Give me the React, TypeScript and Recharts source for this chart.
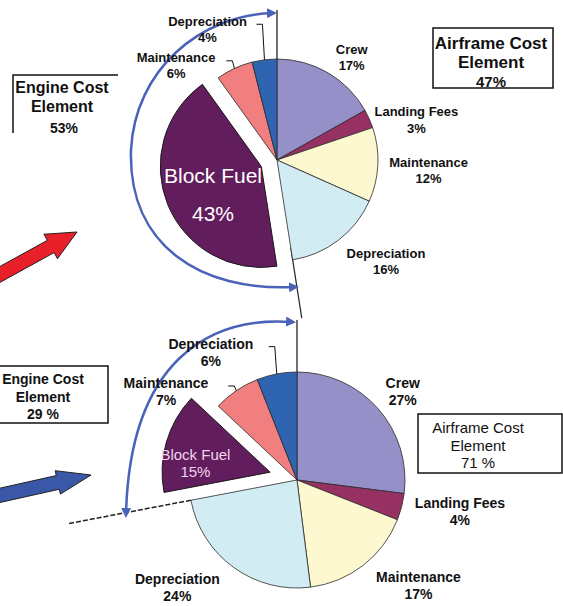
import { Cell, Pie, PieChart } from "recharts";

const categories = [
  "Crew",
  "Landing Fees",
  "Maintenance",
  "Depreciation",
  "Block Fuel",
  "Maintenance",
  "Depreciation",
];
const upperShares = [17, 3, 12, 16, 43, 6, 4];
const lowerShares = [27, 4, 17, 24, 15, 7, 6];

// group totals: [engine, airframe]
const upperGroups = ["53%", "47%"];
const lowerGroups = ["29 %", "71 %"];

const COLORS = ["#9690c8", "#983163", "#fdf8cf", "#d2ecf4", "#621d5c", "#f27f7f", "#2e64b0"];

const FUEL = 4; // the exploded slice
const AIRFRAME_SLICES = 4; // first four slices are airframe costs

const UPPER = { cx: 277, cy: 160, r: 101, explode: 17 };
const LOWER = { cx: 297, cy: 480, r: 108, explode: 28 };

// label spots as [clockwise angle from 12 o'clock, distance from centre]
const upperSpots = [[36, 127], [74, 145], [94, 152], [133, 149], [242, 72.5], [313, 138], [332, 148]];
const lowerSpots = [[50, 138], [101, 166], [131, 161], [228, 161], [279.5, 103], [304, 158], [326, 154]];

const FONT = "'Liberation Sans', Arial, sans-serif";
const RADIAN = Math.PI / 180;
const ARC_BLUE = "#4a63b8";

const polar = (cx: number, cy: number, r: number, deg: number) => ({
  x: cx + r * Math.sin(deg * RADIAN),
  y: cy - r * Math.cos(deg * RADIAN),
});

// start/end angles (clockwise from top) of each slice
const sliceAngles = (shares: number[]) => {
  const total = shares.reduce((a, b) => a + b, 0);
  let acc = 0;
  return shares.map((v) => {
    const start = (acc / total) * 360;
    acc += v;
    return { start, end: (acc / total) * 360 };
  });
};

const makeLabel =
  (shares: number[], spots: number[][], size: number, fuelSize: number, fuelColor: string, fuelGap: number) =>
  (props: any) => {
    const { cx, cy, outerRadius, midAngle, index } = props;
    const [ang, dist] = spots[index];
    const p = polar(cx, cy, dist, ang);
    if (index === FUEL) {
      return (
        <g fontFamily={FONT} fill={fuelColor} fontSize={fuelSize} textAnchor="middle">
          <text x={p.x} y={p.y - fuelGap} dominantBaseline="central">{categories[index]}</text>
          <text x={p.x} y={p.y + fuelGap} dominantBaseline="central">{shares[index]}%</text>
        </g>
      );
    }
    const half = size * 0.62;
    const nameY = p.y - half;
    let leader = null;
    if (index > FUEL) {
      const s = polar(cx, cy, outerRadius, 90 - midAngle);
      const ly = nameY + 3;
      leader = (
        <polyline
          points={`${s.x},${s.y} ${s.x - 2},${ly} ${s.x - 8},${ly}`}
          fill="none"
          stroke="#111"
          strokeWidth={1}
        />
      );
    }
    return (
      <g fontFamily={FONT} fontWeight="bold" fontSize={size} fill="#111" textAnchor="middle">
        {leader}
        <text x={p.x} y={nameY} dominantBaseline="central">{categories[index]}</text>
        <text x={p.x} y={p.y + half} dominantBaseline="central">{shares[index]}%</text>
      </g>
    );
  };

const arrowPoints = (tail: number[], tip: number[], shaft: number, head: number, headLen: number) => {
  const dx = tip[0] - tail[0];
  const dy = tip[1] - tail[1];
  const len = Math.hypot(dx, dy);
  const ux = dx / len;
  const uy = dy / len;
  const nx = -uy;
  const ny = ux;
  const bx = tip[0] - ux * headLen;
  const by = tip[1] - uy * headLen;
  const pts = [
    [tail[0] + nx * shaft, tail[1] + ny * shaft],
    [bx + nx * shaft, by + ny * shaft],
    [bx + nx * head, by + ny * head],
    tip,
    [bx - nx * head, by - ny * head],
    [bx - nx * shaft, by - ny * shaft],
    [tail[0] - nx * shaft, tail[1] - ny * shaft],
  ];
  return pts.map((q) => q.join(",")).join(" ");
};

const CostPie = ({ shares, geo, label }: { shares: number[]; geo: typeof UPPER; label: any }) => {
  const data = categories.map((name, i) => ({ name, value: shares[i] }));
  const fuel = sliceAngles(shares)[FUEL];
  const shift = polar(0, 0, geo.explode, (fuel.start + fuel.end) / 2);
  return [
    <Pie
      key="main"
      data={data}
      dataKey="value"
      cx={geo.cx}
      cy={geo.cy}
      outerRadius={geo.r}
      startAngle={90}
      endAngle={-270}
      labelLine={false}
      label={label}
      isAnimationActive={false}
    >
      {data.map((_, i) => (
        <Cell
          key={i}
          fill={i === FUEL ? "none" : COLORS[i]}
          stroke={i === FUEL ? "none" : "#2a2a2a"}
          strokeWidth={0.8}
        />
      ))}
    </Pie>,
    <Pie
      key="fuel"
      data={data}
      dataKey="value"
      cx={geo.cx + shift.x}
      cy={geo.cy + shift.y}
      outerRadius={geo.r}
      startAngle={90}
      endAngle={-270}
      isAnimationActive={false}
    >
      {data.map((_, i) => (
        <Cell
          key={i}
          fill={i === FUEL ? COLORS[i] : "none"}
          stroke={i === FUEL ? "#1a1a1a" : "none"}
          strokeWidth={1}
        />
      ))}
    </Pie>,
  ];
};

const App = () => {
  const upperSplit = sliceAngles(upperShares)[AIRFRAME_SLICES - 1].end;
  const lowerSplit = sliceAngles(lowerShares)[AIRFRAME_SLICES - 1].end;
  const uTop = polar(UPPER.cx, UPPER.cy, UPPER.r, 0);
  const uTopFar = polar(UPPER.cx, UPPER.cy, 150, 0);
  const uSplitA = polar(UPPER.cx, UPPER.cy, UPPER.r - 12, upperSplit);
  const uSplitB = polar(UPPER.cx, UPPER.cy, 160, upperSplit);
  const lTop = polar(LOWER.cx, LOWER.cy, LOWER.r, 0);
  const lTopFar = polar(LOWER.cx, LOWER.cy, 160, 0);
  const lSplitA = polar(LOWER.cx, LOWER.cy, LOWER.r, lowerSplit);
  const lSplitB = polar(LOWER.cx, LOWER.cy, 232, lowerSplit);

  return (
    <div style={{ position: "absolute", left: 0, top: 0, background: "#fff" }}>
      <PieChart width={563} height={606} margin={{ top: 0, right: 0, bottom: 0, left: 0 }}>
        <defs>
          <marker
            id="blueHead"
            viewBox="0 0 10 10"
            refX="6"
            refY="5"
            markerWidth="4"
            markerHeight="4"
            orient="auto-start-reverse"
          >
            <path d="M0,0 L10,5 L0,10 z" fill={ARC_BLUE} />
          </marker>
        </defs>

        {CostPie({
          shares: upperShares,
          geo: UPPER,
          label: makeLabel(upperShares, upperSpots, 13, 21, "#ffffff", 19),
        })}
        {CostPie({
          shares: lowerShares,
          geo: LOWER,
          label: makeLabel(lowerShares, lowerSpots, 14, 15, "#f0d6f0", 8.5),
        })}

        {/* split lines between engine and airframe sides */}
        <line x1={uTop.x} y1={uTop.y} x2={uTopFar.x} y2={uTopFar.y} stroke="#111" strokeWidth={1.2} />
        <line x1={uSplitA.x} y1={uSplitA.y} x2={uSplitB.x} y2={uSplitB.y} stroke="#222" strokeWidth={1.2} />
        <line x1={lTop.x} y1={lTop.y} x2={lTopFar.x} y2={lTopFar.y} stroke="#111" strokeWidth={1.2} />
        <line
          x1={lSplitA.x}
          y1={lSplitA.y}
          x2={lSplitB.x}
          y2={lSplitB.y}
          stroke="#222"
          strokeWidth={1.5}
          strokeDasharray="5 2"
        />

        {/* curved arrows round the engine side */}
        <path
          d="M 273 13 C 200 15, 135 70, 131 150 C 128 245, 200 292, 295 287"
          fill="none"
          stroke={ARC_BLUE}
          strokeWidth={2.5}
          markerStart="url(#blueHead)"
          markerEnd="url(#blueHead)"
        />
        <path
          d="M 292 322 C 210 316, 130 360, 126 514"
          fill="none"
          stroke={ARC_BLUE}
          strokeWidth={2.5}
          markerStart="url(#blueHead)"
          markerEnd="url(#blueHead)"
        />

        {/* straight arrows from the left */}
        <polygon points={arrowPoints([-12, 281], [77, 232], 7, 14, 30)} fill="#e8202a" stroke="#222" strokeWidth={1} />
        <polygon points={arrowPoints([-12, 498], [91, 475], 7, 12, 34)} fill="#3a57a8" stroke="#222" strokeWidth={1} />

        {/* group boxes */}
        <g fontFamily={FONT} fontWeight="bold" fill="#111" textAnchor="middle">
          <polyline points="13,133 13,75 118,75" fill="none" stroke="#111" strokeWidth={1.5} />
          <text x={62} y={87} fontSize={16} dominantBaseline="central">Engine Cost</text>
          <text x={62} y={106} fontSize={16} dominantBaseline="central">Element</text>
          <text x={64} y={128} fontSize={14} dominantBaseline="central">{upperGroups[0]}</text>

          <rect x={433} y={28} width={120} height={60} fill="none" stroke="#111" strokeWidth={1.5} />
          <text x={491} y={43} fontSize={17} dominantBaseline="central">Airframe Cost</text>
          <text x={491} y={62} fontSize={17} dominantBaseline="central">Element</text>
          <text x={491} y={81} fontSize={15} dominantBaseline="central">{upperGroups[1]}</text>

          <rect x={-2} y={366} width={110} height={57} fill="none" stroke="#111" strokeWidth={1.5} />
          <text x={43} y={379} fontSize={14} dominantBaseline="central">Engine Cost</text>
          <text x={43} y={397} fontSize={14} dominantBaseline="central">Element</text>
          <text x={43} y={414} fontSize={14} dominantBaseline="central">{lowerGroups[0]}</text>
        </g>
        <g fontFamily={FONT} fill="#111" textAnchor="middle">
          <rect x={418} y={414} width={144} height={59} fill="none" stroke="#111" strokeWidth={1.5} />
          <text x={478} y={427} fontSize={15} dominantBaseline="central">Airframe Cost</text>
          <text x={478} y={445} fontSize={15} dominantBaseline="central">Element</text>
          <text x={478} y={462} fontSize={15} dominantBaseline="central">{lowerGroups[1]}</text>
        </g>
      </PieChart>
    </div>
  );
};

export default App;
